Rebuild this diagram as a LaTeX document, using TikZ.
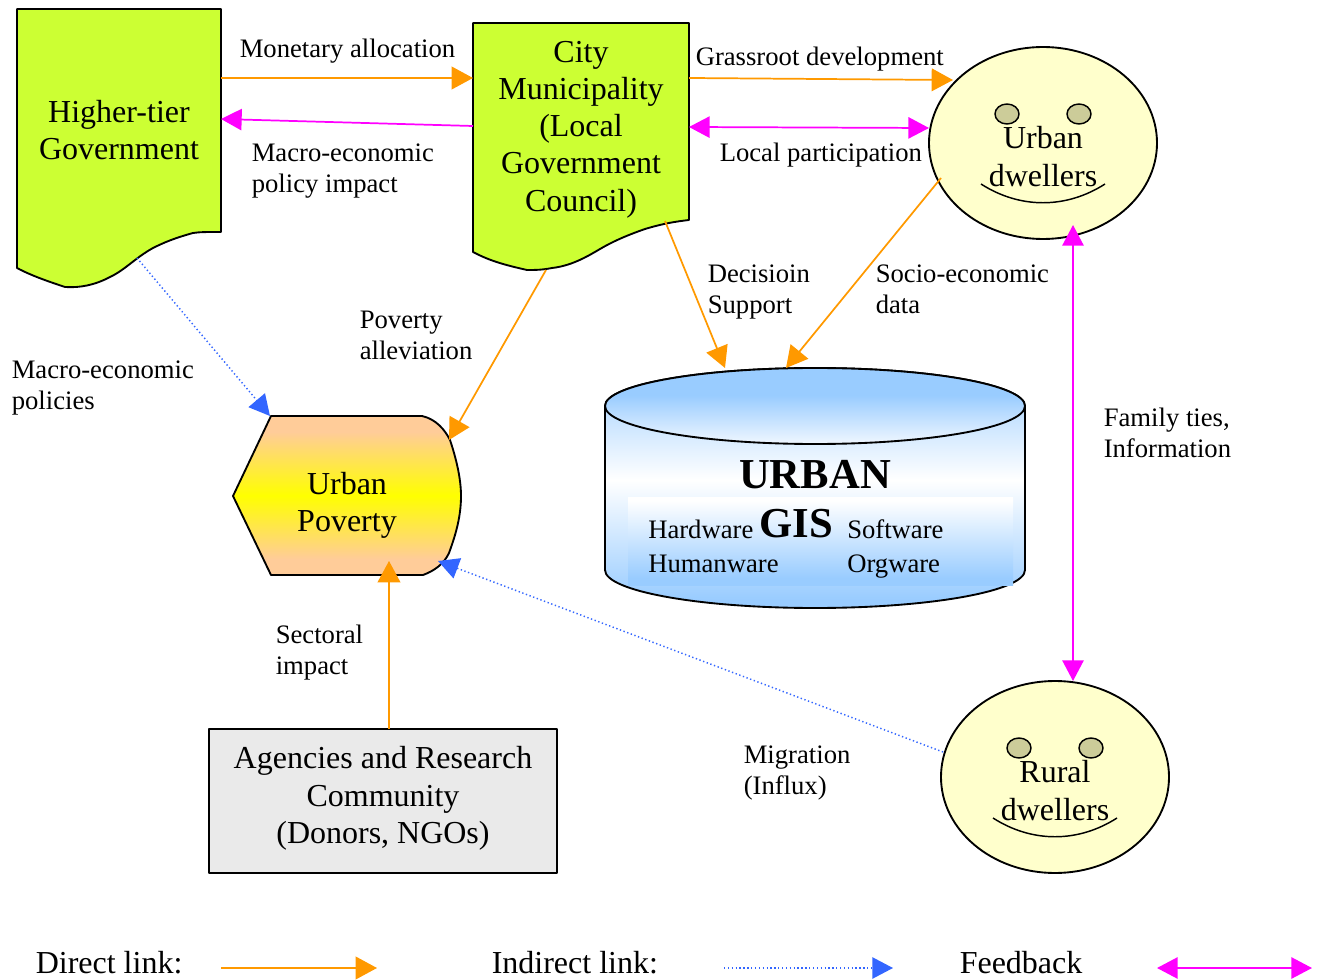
\documentclass[tikz,border=0pt]{standalone}
\usepackage{fontspec}
\setmainfont{Liberation Serif}
\usetikzlibrary{arrows.meta,shapes.geometric}
\definecolor{lime}{HTML}{CCFF33}
\definecolor{cream}{HTML}{FFFFCC}
\definecolor{eyec}{HTML}{CCCC99}
\definecolor{peach}{HTML}{FFCC99}
\definecolor{sky}{HTML}{99CCFF}
\definecolor{paleblue}{HTML}{F0F7FF}
\definecolor{orangeL}{HTML}{FF9900}
\definecolor{magL}{HTML}{FF00FF}
\definecolor{blueL}{HTML}{3366FF}
\definecolor{greyb}{HTML}{EAEAEA}
\pgfdeclareverticalshading{cylbody}{100bp}{color(0bp)=(sky); color(26.7bp)=(sky); color(51.7bp)=(white); color(75bp)=(sky); color(100bp)=(sky)}
\pgfdeclareverticalshading{cylpanel}{100bp}{color(0bp)=(sky); color(29bp)=(sky); color(73bp)=(white); color(100bp)=(white)}
\pgfdeclareverticalshading{cyltop}{100bp}{color(0bp)=(paleblue); color(25bp)=(paleblue); color(57bp)=(sky); color(100bp)=(sky)}
\pgfdeclareverticalshading{povshade}{100bp}{color(0bp)=(peach); color(30bp)=(peach); color(50bp)=(yellow); color(70bp)=(peach); color(100bp)=(peach)}
\tikzset{
  outline/.style={draw=black,line width=1.4pt,line join=round},
  lab/.style={inner sep=0pt,anchor=west,align=left,font=\fontsize{20}{23.25}\selectfont},
  big/.style={inner sep=0pt,align=center,font=\fontsize{24}{27.9}\selectfont},
  legendtxt/.style={inner sep=0pt,anchor=west,font=\fontsize{24}{27.9}\selectfont},
  gistxt/.style={inner sep=0pt,font=\bfseries\fontsize{32}{36}\selectfont},
  direct/.style={draw=orangeL,line width=1.3pt,-{Triangle[length=16pt,width=17pt,fill=orangeL]}},
  indirect/.style={draw=blueL,line width=1.1pt,dash pattern=on 1pt off 1.9pt,-{Triangle[length=15.5pt,width=16pt,fill=blueL,sep=0pt]}},
  feedback/.style={draw=magL,line width=1.3pt,{Triangle[length=15.5pt,width=16pt,fill=magL]}-{Triangle[length=15.5pt,width=16pt,fill=magL]}},
  feedone/.style={draw=magL,line width=1.3pt,-{Triangle[length=15.5pt,width=16pt,fill=magL]}},
  face/.style={ellipse,outline,fill=cream,minimum width=171pt,minimum height=144pt,inner sep=0pt},
  eye/.style={ellipse,outline,line width=1.1pt,fill=eyec,minimum width=18pt,minimum height=15pt,inner sep=0pt},
  smile/.style={draw=black,line width=1.1pt}
}
\begin{document}
\begin{tikzpicture}[x=.75pt,y=-.75pt]
\useasboundingbox (0,0) rectangle (1321,980);
% Documents
\path[outline,fill=lime] (17,9) -- (221,9) -- (221,232)
  .. controls (205,232) and (200,232) .. (193,233)
  .. controls (175,238) and (165,242) .. (153,248)
  .. controls (135,258) and (125,270) .. (110,277)
  .. controls (95,285) and (80,288) .. (65,287)
  .. controls (50,282) and (32,276) .. (17,268) -- cycle;
\node[big] (hg) at (119,130) {Higher-tier\\Government};
\path[outline,fill=lime] (473,23) -- (689,23) -- (689,220)
  .. controls (672,222) and (662,224) .. (645,229)
  .. controls (625,236) and (612,242) .. (600,249)
  .. controls (585,258) and (570,266) .. (552,268)
  .. controls (542,270) and (535,270) .. (527,270)
  .. controls (505,265) and (490,261) .. (473,252) -- cycle;
\node[big] (city) at (581,129.5) {City\\Municipality\\(Local\\Government\\Council)};
% Faces
\node[face] (urbanf) at (1043,143) {};
\node[eye] (ue1) at (1007,114) {};
\node[eye] (ue2) at (1079,114) {};
\draw[smile] (981,184) .. controls (1020,209) and (1066,209) .. (1105,184);
\node[big] (urbant) at (1043,156.5) {Urban\\dwellers};
\node[face] (ruralf) at (1055,777) {};
\node[eye] (re1) at (1019,748) {};
\node[eye] (re2) at (1091,748) {};
\draw[smile] (993,818) .. controls (1032,843) and (1078,843) .. (1117,818);
\node[big] (ruralt) at (1055,790.5) {Rural\\dwellers};
% Poverty
\path[outline,shading=povshade]
  (271,416) -- (422,416) .. controls (436,419) and (445,430) .. (450,440)
  .. controls (456,458) and (461,478) .. (461,496)
  .. controls (461,516) and (456,534) .. (449,553)
  .. controls (444,564) and (434,571) .. (423,575)
  -- (271,575) -- (233,496) -- cycle;
\node[big] (pov) at (347,505) {Urban\\Poverty};
% Agencies
\node[outline,rectangle,fill=greyb,minimum width=261pt,minimum height=108pt,inner sep=0pt] (agency) at (383,801) {};
\node[big] (agencyt) at (383,798.5) {Agencies and Research\\Community\\(Donors, NGOs)};
% Cylinder
\path[outline,shading=cylbody]
  (605,406) -- (605,570) .. controls (605,591) and (699,608) .. (815,608)
  .. controls (931,608) and (1025,591) .. (1025,570) -- (1025,406)
  .. controls (1025,385) and (931,368) .. (815,368)
  .. controls (699,368) and (605,385) .. (605,406) -- cycle;
\path[shading=cylpanel] (628,497) rectangle (1013,585);
\path[outline,shading=cyltop] (815,406) ellipse[x radius=210,y radius=38];
\node[gistxt] (urbanlbl) at (815,475) {URBAN};
\node[gistxt] (gislbl) at (796,524) {GIS};
\node[lab,font=\fontsize{20}{25.5}\selectfont] (hw) at (648,546) {Hardware\\Humanware};
\node[lab,font=\fontsize{20}{25.5}\selectfont] (sw) at (847,549) {Software\\Orgware};
% Connector ends
\coordinate (hgA) at (221,78);
\coordinate (cityA) at (473,78);
\coordinate (cityB) at (473,126);
\coordinate (hgB) at (221,119);
\coordinate (cityC) at (689,78);
\coordinate (urbC) at (953,80);
\coordinate (cityD) at (689,127);
\coordinate (urbD) at (929,128);
\coordinate (cityE) at (665,221);
\coordinate (gisE) at (725,368);
\coordinate (urbF) at (941,178);
\coordinate (gisF) at (786,368);
\coordinate (cityG) at (546,270);
\coordinate (povG) at (449,440);
\coordinate (hgH) at (137,258);
\coordinate (povH) at (270,416);
\coordinate (agI) at (389,729);
\coordinate (povI) at (389,561);
\coordinate (rurJ) at (943,752);
\coordinate (povJ) at (438,561);
\coordinate (rurK) at (1073,681);
\coordinate (urbK) at (1073,225);
\coordinate (l1a) at (221,968);
\coordinate (l1b) at (377,968);
\coordinate (l2a) at (724,968);
\coordinate (l2b) at (893,968);
\coordinate (l3a) at (1157,968);
\coordinate (l3b) at (1312,968);
% Connectors
\draw[direct] (hgA) -- (cityA);
\draw[feedone] (cityB) -- (hgB);
\draw[direct] (cityC) -- (urbC);
\draw[feedback] (cityD) -- (urbD);
\draw[direct] (cityE) -- (gisE);
\draw[direct] (urbF) -- (gisF);
\draw[direct] (cityG) -- (povG);
\draw[indirect] (hgH) -- (povH);
\draw[direct] (agI) -- (povI);
\draw[indirect] (rurJ) -- (povJ);
\draw[feedback] (rurK) -- (urbK);
\draw[direct] (l1a) -- (l1b);
\draw[indirect] (l2a) -- (l2b);
\draw[feedback] (l3a) -- (l3b);
% Labels
\node[lab] (t1) at (239.5,51.5) {Monetary allocation};
\node[lab] (t2) at (251.5,171) {Macro-economic\\policy impact};
\node[lab] (t3) at (695.5,59) {Grassroot development};
\node[lab] (t4) at (719.5,155) {Local participation};
\node[lab] (t5) at (707.5,292) {Decisioin\\Support};
\node[lab] (t6) at (875.5,289.5) {Socio-economic\\data};
\node[lab] (t7) at (359.5,335) {Poverty\\alleviation};
\node[lab] (t8) at (11.5,388) {Macro-economic\\policies};
\node[lab] (t9) at (1103.5,433) {Family ties,\\Information};
\node[lab] (t10) at (275.5,652.5) {Sectoral\\impact};
\node[lab] (t11) at (743.5,773) {Migration\\(Influx)};
\node[legendtxt] (k1) at (35.5,963) {Direct link:};
\node[legendtxt] (k2) at (491.5,963) {Indirect link:};
\node[legendtxt] (k3) at (959.5,963) {Feedback};
\end{tikzpicture}
\end{document}
